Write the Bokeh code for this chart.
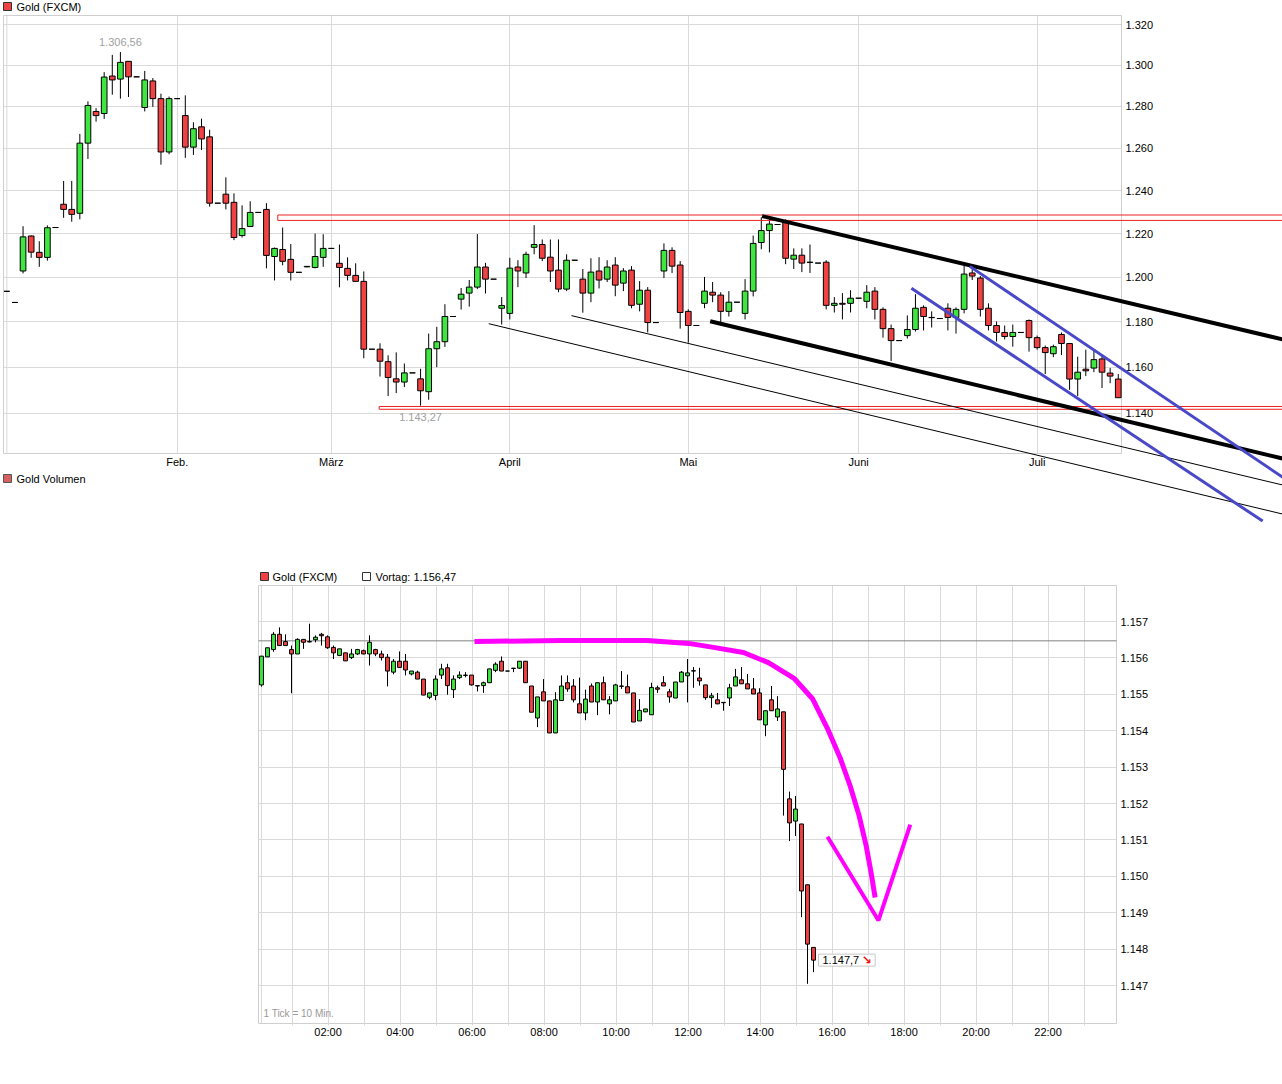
import math
from bokeh.plotting import figure
from bokeh.models import Range1d, FixedTicker, Span, Label, BoxAnnotation, Arrow, ColumnDataSource
from bokeh.layouts import column
from bokeh.embed import file_html
from bokeh.resources import INLINE

FONT = "Liberation Sans"
NARROW = "Liberation Sans Narrow, Liberation Sans"
RED = "#f04242"
GREEN = "#3fe63f"
GRID = "#dadada"
BORDER = "#cfcfcf"

# ---------------- daily candles (Gold FXCM) ----------------
month_ticks = [21, 40, 62, 84, 105, 127]
month_labels = ["Feb.", "März", "April", "Mai", "Juni", "Juli"]
top_ticks = [1140, 1160, 1180, 1200, 1220, 1240, 1260, 1280, 1300, 1320]
top_tick_labels = ["1.140", "1.160", "1.180", "1.200", "1.220", "1.240", "1.260", "1.280", "1.300", "1.320"]

d_open = [1193.7, 1188.7, 1202.9, 1218.9, 1211.4, 1209.1, 1222.8, 1233.6, 1231.2, 1229.4,
          1262.4, 1277.6, 1276.6, 1294.8, 1293.3, 1302.0, 1294.4, 1279.5, 1292.4, 1283.8,
          1258.2, 1283.8, 1275.6, 1260.5, 1270.2, 1265.4, 1234.1, 1238.3, 1234.5, 1219.1,
          1223.3, 1229.8, 1231.2, 1209.5, 1212.7, 1208.2, 1202.3, 1204.8, 1204.5, 1209.1,
          1213.2, 1206.4, 1204.1, 1200.9, 1198.2, 1167.9, 1167.9, 1162.4, 1154.9, 1153.5,
          1157.5, 1154.9, 1149.3, 1168.1, 1171.2, 1182.4, 1190.2, 1192.9, 1195.6, 1204.7,
          1199.2, 1186.1, 1183.8, 1204.7, 1202.0, 1213.7, 1215.0, 1209.2, 1203.3, 1194.7,
          1207.8, 1199.2, 1192.9, 1202.9, 1199.2, 1205.6, 1197.4, 1203.3, 1187.9, 1194.2,
          1179.7, 1202.9, 1212.3, 1205.6, 1184.7, 1178.4, 1188.3, 1193.3, 1192.0, 1184.7,
          1188.8, 1183.8, 1193.8, 1215.9, 1221.4, 1224.2, 1225.2, 1208.3, 1210.1, 1206.9,
          1206.5, 1206.9, 1187.4, 1188.3, 1188.3, 1190.6, 1189.2, 1193.8, 1185.6, 1177.0,
          1171.7, 1173.9, 1176.6, 1186.5, 1182.0, 1181.5, 1186.1, 1182.0, 1185.6, 1202.0,
          1199.7, 1186.1, 1178.4, 1175.3, 1173.5, 1175.3, 1180.6, 1173.0, 1168.6, 1165.9,
          1174.4, 1170.4, 1154.8, 1159.1, 1159.6, 1163.6, 1157.4, 1154.8]
d_high = [1193.7, 1188.7, 1223.4, 1219.2, 1216.5, 1223.8, 1222.8, 1244.5, 1244.5, 1266.8,
          1282.5, 1279.2, 1296.7, 1305.2, 1306.56, 1302.0, 1294.4, 1297.3, 1293.8, 1286.2,
          1284.8, 1283.8, 1285.4, 1272.4, 1274.1, 1268.8, 1234.1, 1246.2, 1238.7, 1233.1,
          1235.0, 1229.8, 1234.1, 1213.6, 1222.8, 1215.2, 1202.3, 1205.2, 1220.0, 1219.7,
          1213.2, 1215.0, 1209.1, 1206.4, 1202.7, 1167.9, 1170.5, 1165.2, 1166.5, 1161.6,
          1157.5, 1159.3, 1174.8, 1177.8, 1187.9, 1182.4, 1195.2, 1198.8, 1219.8, 1206.6,
          1199.2, 1191.1, 1208.9, 1207.8, 1211.7, 1223.9, 1217.3, 1217.3, 1217.3, 1210.5,
          1207.8, 1203.8, 1208.7, 1209.2, 1207.8, 1209.2, 1204.2, 1205.1, 1198.3, 1195.6,
          1179.7, 1215.5, 1213.7, 1207.4, 1185.6, 1178.4, 1200.2, 1197.9, 1193.3, 1193.8,
          1188.8, 1199.2, 1219.1, 1227.5, 1227.0, 1224.2, 1226.6, 1213.2, 1213.2, 1215.0,
          1206.5, 1207.8, 1191.1, 1192.9, 1194.2, 1190.6, 1196.5, 1195.6, 1186.5, 1178.8,
          1171.7, 1182.9, 1192.4, 1187.4, 1184.7, 1181.5, 1188.3, 1186.5, 1205.6, 1205.6,
          1200.6, 1188.3, 1180.2, 1178.4, 1178.8, 1175.3, 1181.1, 1173.9, 1169.5, 1169.9,
          1175.3, 1170.4, 1164.6, 1167.7, 1167.7, 1165.5, 1159.6, 1157.0]
d_low = [1193.7, 1188.7, 1201.8, 1208.9, 1204.8, 1207.6, 1222.8, 1227.3, 1225.5, 1226.6,
         1254.9, 1272.7, 1274.0, 1285.7, 1283.8, 1284.6, 1294.4, 1277.6, 1279.8, 1252.2,
         1257.1, 1283.8, 1255.4, 1256.8, 1259.1, 1232.5, 1234.1, 1231.2, 1217.0, 1218.2,
         1223.3, 1229.8, 1204.1, 1198.6, 1205.5, 1198.6, 1202.3, 1204.5, 1204.1, 1204.8,
         1213.2, 1195.5, 1198.6, 1198.2, 1163.9, 1167.9, 1155.9, 1147.4, 1148.7, 1151.3,
         1157.5, 1143.27, 1145.8, 1160.0, 1168.9, 1182.4, 1185.5, 1186.8, 1194.7, 1192.7,
         1199.2, 1178.8, 1181.1, 1195.6, 1199.7, 1210.5, 1207.4, 1197.9, 1193.3, 1193.8,
         1207.8, 1184.1, 1188.8, 1195.0, 1197.9, 1191.5, 1193.8, 1186.1, 1184.7, 1175.3,
         1179.7, 1199.7, 1202.0, 1177.0, 1170.8, 1178.4, 1186.1, 1188.8, 1179.7, 1182.4,
         1188.8, 1181.1, 1191.4, 1212.8, 1211.4, 1224.2, 1206.0, 1203.8, 1202.4, 1202.0,
         1206.5, 1185.6, 1184.2, 1181.1, 1184.2, 1190.6, 1186.1, 1181.1, 1173.0, 1162.7,
         1171.7, 1172.6, 1175.7, 1176.2, 1177.5, 1181.5, 1176.2, 1174.8, 1183.8, 1198.8,
         1182.4, 1176.2, 1171.3, 1172.2, 1169.0, 1175.3, 1166.8, 1167.7, 1157.0, 1164.4,
         1165.3, 1150.1, 1147.4, 1156.1, 1157.8, 1150.9, 1153.0, 1146.7]
d_close = [1193.7, 1188.7, 1218.5, 1211.5, 1209.1, 1222.7, 1222.8, 1231.2, 1228.9, 1262.4,
           1280.5, 1275.6, 1294.3, 1292.9, 1301.5, 1294.4, 1294.4, 1292.9, 1283.8, 1258.2,
           1283.8, 1283.8, 1260.5, 1269.3, 1264.4, 1234.1, 1234.1, 1234.1, 1218.2, 1222.3,
           1229.8, 1229.8, 1210.0, 1213.2, 1207.3, 1202.3, 1202.3, 1205.0, 1209.5, 1213.2,
           1213.2, 1204.5, 1200.9, 1198.2, 1167.9, 1167.9, 1162.6, 1155.5, 1153.5, 1157.5,
           1157.5, 1149.7, 1168.1, 1171.2, 1182.4, 1182.4, 1192.4, 1195.6, 1204.7, 1199.2,
           1199.2, 1187.3, 1204.2, 1202.9, 1210.5, 1215.0, 1208.7, 1202.9, 1194.7, 1207.8,
           1207.8, 1192.9, 1202.4, 1198.8, 1204.7, 1196.5, 1202.9, 1187.4, 1194.2, 1179.7,
           1179.7, 1212.3, 1205.1, 1184.2, 1178.4, 1178.4, 1193.8, 1192.0, 1184.7, 1188.8,
           1188.8, 1193.8, 1215.5, 1221.4, 1224.4, 1224.2, 1208.7, 1210.1, 1206.5, 1206.8,
           1206.5, 1187.4, 1188.3, 1187.9, 1190.6, 1190.6, 1193.3, 1185.6, 1177.0, 1171.7,
           1171.7, 1176.6, 1186.1, 1182.4, 1181.9, 1181.5, 1182.0, 1185.6, 1201.5, 1200.6,
           1185.6, 1178.4, 1175.3, 1173.5, 1175.3, 1175.3, 1173.0, 1168.6, 1166.4, 1169.0,
           1170.4, 1154.8, 1157.8, 1158.4, 1163.3, 1157.8, 1156.1, 1146.7]

# support / resistance bands (left index, lower price, upper price)
band_left = [33.4, 45.9]
band_low = [1226.1, 1141.7]
band_high = [1228.6, 1142.9]

# trend lines (index / price)
trend_x0 = [59.4, 69.6, 93.1, 86.7, 118.7, 111.5]
trend_y0 = [1179.2, 1182.8, 1228.1, 1180.3, 1205.0, 1195.1]
trend_x1 = [160.0, 160.0, 160.0, 160.0, 160.0, 154.8]
trend_y1 = [1095.2, 1107.3, 1169.9, 1118.4, 1106.5, 1094.5]
trend_color = ["#000000", "#000000", "#000000", "#000000", "#4848c8", "#4848c8"]
trend_width = [1, 1, 4, 4, 3, 3]

# ---------------- intraday 10-min candles ----------------
hour_ticks = [60, 120, 180, 240, 300, 360, 420, 480, 540, 600, 660, 720, 780, 840, 900,
              960, 1020, 1080, 1140, 1200, 1260, 1320, 1380]
hour_labels = ["", "02:00", "", "04:00", "", "06:00", "", "08:00", "", "10:00", "", "12:00",
               "", "14:00", "", "16:00", "", "18:00", "", "20:00", "", "22:00", ""]
bot_ticks = [1147, 1148, 1149, 1150, 1151, 1152, 1153, 1154, 1155, 1156, 1157]
bot_tick_labels = ["1.147", "1.148", "1.149", "1.150", "1.151", "1.152", "1.153", "1.154",
                   "1.155", "1.156", "1.157"]
vortag = 1156.47

i_open = [1155.26, 1156.03, 1156.23, 1156.65, 1156.45, 1156.23, 1156.11, 1156.51, 1156.45, 1156.50,
          1156.65, 1156.58, 1156.29, 1156.07, 1156.14, 1156.01, 1156.11, 1156.20, 1156.11, 1156.23,
          1156.11, 1156.02, 1155.61, 1155.91, 1155.91, 1155.56, 1155.61, 1155.42, 1154.92, 1154.97,
          1155.53, 1155.73, 1155.13, 1155.46, 1155.53, 1155.53, 1155.24, 1155.24, 1155.32, 1155.66,
          1155.91, 1155.64, 1155.72, 1155.72, 1155.91, 1155.23, 1154.35, 1155.07, 1154.82, 1153.94,
          1154.83, 1155.32, 1155.23, 1154.74, 1154.49, 1155.23, 1154.79, 1155.32, 1154.74, 1154.82,
          1155.23, 1155.21, 1155.04, 1154.27, 1154.52, 1154.44, 1155.18, 1155.32, 1155.07, 1154.90,
          1155.34, 1155.51, 1155.65, 1155.45, 1155.26, 1154.91, 1154.85, 1154.78, 1154.90, 1155.23,
          1155.40, 1155.29, 1155.15, 1155.04, 1154.16, 1154.85, 1154.38, 1154.52, 1152.13, 1151.52,
          1151.44, 1149.77, 1148.05]
i_high = [1156.05, 1156.28, 1156.71, 1156.84, 1156.65, 1156.34, 1156.54, 1156.51, 1156.94, 1156.62,
          1156.69, 1156.62, 1156.34, 1156.25, 1156.14, 1156.25, 1156.25, 1156.23, 1156.62, 1156.25,
          1156.20, 1156.11, 1155.97, 1156.18, 1156.11, 1155.64, 1155.65, 1155.42, 1155.04, 1155.52,
          1155.84, 1155.84, 1155.52, 1155.63, 1155.61, 1155.53, 1155.24, 1155.35, 1155.70, 1155.88,
          1156.04, 1155.64, 1155.72, 1155.91, 1155.91, 1155.23, 1154.93, 1155.42, 1154.82, 1155.06,
          1155.52, 1155.52, 1155.42, 1155.46, 1155.13, 1155.30, 1155.32, 1155.49, 1154.95, 1155.29,
          1155.64, 1155.54, 1155.04, 1154.87, 1154.60, 1155.32, 1155.24, 1155.50, 1155.15, 1155.34,
          1155.64, 1155.97, 1155.75, 1155.73, 1155.26, 1155.04, 1155.04, 1154.78, 1155.29, 1155.70,
          1155.75, 1155.56, 1155.45, 1155.17, 1154.55, 1155.23, 1154.95, 1154.52, 1152.33, 1152.21,
          1151.44, 1149.77, 1148.05]
i_low = [1155.21, 1156.03, 1156.17, 1156.34, 1156.34, 1155.03, 1156.11, 1156.25, 1156.43, 1156.43,
         1156.34, 1156.25, 1155.97, 1156.05, 1155.92, 1155.97, 1156.08, 1156.10, 1155.79, 1156.05,
         1155.93, 1155.22, 1155.55, 1155.74, 1155.52, 1155.52, 1155.42, 1154.98, 1154.87, 1154.84,
         1155.42, 1154.99, 1154.90, 1155.42, 1155.47, 1155.24, 1155.08, 1155.04, 1155.32, 1155.61,
         1155.64, 1155.64, 1155.61, 1155.70, 1155.32, 1154.51, 1154.10, 1154.82, 1153.94, 1153.94,
         1154.83, 1155.07, 1154.78, 1154.49, 1154.29, 1154.79, 1154.43, 1154.85, 1154.45, 1154.82,
         1155.15, 1155.04, 1154.24, 1154.27, 1154.51, 1154.44, 1155.04, 1155.23, 1154.77, 1154.90,
         1155.34, 1154.78, 1155.18, 1155.24, 1154.85, 1154.63, 1154.73, 1154.55, 1154.68, 1155.23,
         1155.29, 1155.15, 1155.01, 1154.30, 1153.85, 1154.55, 1154.27, 1151.67, 1150.97, 1151.11,
         1148.88, 1147.05, 1147.37]
i_close = [1156.05, 1156.28, 1156.65, 1156.34, 1156.34, 1156.11, 1156.51, 1156.43, 1156.44, 1156.57,
           1156.61, 1156.28, 1156.14, 1156.25, 1155.92, 1156.11, 1156.23, 1156.11, 1156.43, 1156.11,
           1156.01, 1155.64, 1155.91, 1155.74, 1155.67, 1155.64, 1155.42, 1154.98, 1155.04, 1155.42,
           1155.70, 1155.24, 1155.42, 1155.53, 1155.52, 1155.26, 1155.23, 1155.32, 1155.70, 1155.83,
           1155.64, 1155.64, 1155.71, 1155.91, 1155.32, 1154.51, 1154.93, 1154.82, 1153.94, 1154.85,
           1155.23, 1155.15, 1154.85, 1154.49, 1154.87, 1154.79, 1155.32, 1154.85, 1154.85, 1155.26,
           1155.22, 1155.04, 1154.24, 1154.56, 1154.60, 1155.19, 1155.14, 1155.23, 1154.93, 1155.34,
           1155.61, 1155.59, 1155.64, 1155.37, 1154.91, 1154.96, 1154.74, 1154.77, 1155.18, 1155.48,
           1155.29, 1155.15, 1155.01, 1154.30, 1154.55, 1154.55, 1154.60, 1152.94, 1151.47, 1151.85,
           1149.60, 1148.14, 1147.70]

# hand-drawn magenta arrow (minutes of day / price)
curve_t = [364.0, 507.3, 652.3, 720.7, 762.3, 812.3, 854.0, 897.3, 927.3, 952.3, 973.3, 990.0,
           1005.0, 1016.7, 1025.0, 1031.7]
curve_p = [1156.45, 1156.48, 1156.48, 1156.40, 1156.29, 1156.15, 1155.87, 1155.43, 1154.88,
           1154.06, 1153.26, 1152.49, 1151.67, 1150.85, 1150.10, 1149.42]
vee_t = [952.3, 1037.3, 1090.3]
vee_p = [1151.09, 1148.79, 1151.42]

# ---------------- layout geometry (pixels) ----------------
W = 1282
TOP_H = 560
BOT_H = 510
CH_X0, CH_X1 = -0.41, 137.4
CH_Y0, CH_Y1 = 1122.79, 1324.74
T_LEFT, T_RIGHT, T_TOP, T_BOTTOM = 3, 1121, 15, 453
BX0, BX1 = 4.0, 1434.0
BY0, BY1 = 1145.96, 1157.99
B_LEFT, B_RIGHT, B_TOP, B_BOTTOM = 258, 1116, 25, 463


def candles(p, x, o, h, l, c, width):
    n = min(len(x), len(o), len(h), len(l), len(c))
    src = ColumnDataSource(dict(
        x=x[:n], h=h[:n], l=l[:n],
        top=[max(a, b) for a, b in zip(o[:n], c[:n])],
        bottom=[min(a, b) for a, b in zip(o[:n], c[:n])],
        color=[GREEN if b > a else RED for a, b in zip(o[:n], c[:n])]))
    p.segment("x", "h", "x", "l", source=src, line_color="black", line_width=1)
    p.vbar(x="x", width=width, top="top", bottom="bottom", fill_color="color",
           line_color="black", line_width=1, source=src)


def style_axes(p):
    for ax in list(p.xaxis) + list(p.yaxis):
        ax.axis_line_color = None
        ax.minor_tick_line_color = None
        ax.major_label_text_font = FONT
        ax.major_label_text_font_size = "11px"
        ax.major_label_text_color = "#000000"
    p.xgrid.grid_line_color = GRID
    p.ygrid.grid_line_color = GRID
    p.outline_line_color = None
    p.background_fill_color = "white"
    p.border_fill_color = "white"


def mask_outside(p, x0, x1, y0, y1):
    for kw in (dict(left=x1), dict(right=x0), dict(bottom=y1), dict(top=y0)):
        p.add_layout(BoxAnnotation(level="underlay", fill_color="white", fill_alpha=1.0,
                                   line_color=None, **kw))
    p.add_layout(BoxAnnotation(level="underlay", left=x0, right=x1, bottom=y0, top=y1,
                               fill_color=None, line_color=BORDER, line_alpha=1.0, line_width=1))


def legend_box(p, left, bottom, color, line="#333333"):
    p.add_layout(BoxAnnotation(left=left, right=left + 8, bottom=bottom, top=bottom + 8,
                               left_units="screen", right_units="screen",
                               bottom_units="screen", top_units="screen",
                               fill_color=color, fill_alpha=1.0, line_color=line,
                               line_alpha=1.0, line_width=1))


def legend_text(p, x, y, text, font=FONT, size="11px", color="#000000"):
    p.add_layout(Label(x=x, y=y, x_units="screen", y_units="screen", text=text,
                       text_font=font, text_font_size=size, text_color=color,
                       text_baseline="middle", text_align="left"))


# ---------------- top figure ----------------
n_days = len(d_open)
tx = (T_RIGHT - T_LEFT) / (CH_X1 - CH_X0)
tk = math.log(CH_Y1 / CH_Y0) / (T_BOTTOM - T_TOP)
top = figure(frame_width=W, frame_height=TOP_H, min_border=0,
             x_range=Range1d(CH_X0 - T_LEFT / tx, CH_X0 + (W - T_LEFT) / tx),
             y_range=Range1d(CH_Y0 * math.exp(-(TOP_H - T_BOTTOM) * tk), CH_Y1 * math.exp(T_TOP * tk)),
             y_axis_type="log", y_axis_location="right",
             output_backend="svg", toolbar_location=None)
style_axes(top)
top.yaxis.fixed_location = CH_X1
top.xaxis.fixed_location = CH_Y0
top.yaxis.ticker = FixedTicker(ticks=top_ticks)
top.yaxis.major_label_overrides = dict(zip(top_ticks, top_tick_labels))
top.xaxis.ticker = FixedTicker(ticks=month_ticks)
top.xaxis.major_label_overrides = dict(zip(month_ticks, month_labels))
top.xaxis.major_label_text_font = NARROW
top.yaxis.major_tick_out = 0
top.xaxis.major_tick_out = 0
top.yaxis.major_tick_in = 0
top.xaxis.major_tick_in = 0
top.yaxis.major_label_standoff = 4
top.xaxis.major_label_standoff = 2
top.yaxis.major_tick_line_color = None
top.xaxis.major_tick_line_color = None
top.add_layout(Span(location=0, dimension="height", line_color=GRID, line_width=1, level="underlay"))
mask_outside(top, CH_X0, CH_X1, CH_Y0, CH_Y1)

candles(top, list(range(n_days)), d_open, d_high, d_low, d_close, 0.7)

for bl, lo, hi in zip(band_left, band_low, band_high):
    top.add_layout(BoxAnnotation(left=bl, bottom=lo, top=hi, fill_color=None,
                                 line_color="#ee2020", line_alpha=1.0, line_width=1))

for x0, y0, x1, y1, col, lw in zip(trend_x0, trend_y0, trend_x1, trend_y1, trend_color, trend_width):
    top.add_layout(Arrow(end=None, x_start=x0, y_start=y0, x_end=x1, y_end=y1,
                         line_color=col, line_width=lw))

hi_idx = d_high.index(max(d_high))
lo_idx = d_low.index(min(d_low))
top.add_layout(Label(x=hi_idx, y=d_high[hi_idx], text="1.306,56", text_align="center",
                     text_baseline="bottom", y_offset=6, text_font=FONT, text_font_size="11px",
                     text_color="#a0a0a0"))
top.add_layout(Label(x=lo_idx, y=d_low[lo_idx], text="1.143,27", text_align="center",
                     text_baseline="top", y_offset=-7, text_font=FONT, text_font_size="11px",
                     text_color="#a0a0a0"))

legend_box(top, 3, TOP_H - 10, RED)
legend_text(top, 16, TOP_H - 6, "Gold (FXCM)")
legend_box(top, 3, TOP_H - 482, "#d96060", line="#555555")
legend_text(top, 16, TOP_H - 478, "Gold Volumen", font=NARROW)

# ---------------- bottom figure ----------------
n_bars = len(i_open)
i_time = [9 + 10 * k for k in range(n_bars)]
bx = (B_RIGHT - B_LEFT) / (BX1 - BX0)
by = (B_BOTTOM - B_TOP) / (BY1 - BY0)
bot = figure(frame_width=W, frame_height=BOT_H, min_border=0,
             x_range=Range1d(BX0 - B_LEFT / bx, BX0 + (W - B_LEFT) / bx),
             y_range=Range1d(BY0 - (BOT_H - B_BOTTOM) / by, BY1 + B_TOP / by),
             y_axis_location="right", output_backend="svg", toolbar_location=None)
style_axes(bot)
bot.yaxis.fixed_location = BX1
bot.xaxis.fixed_location = BY0
bot.yaxis.ticker = FixedTicker(ticks=bot_ticks)
bot.yaxis.major_label_overrides = dict(zip(bot_ticks, bot_tick_labels))
bot.yaxis.major_tick_out = 0
bot.yaxis.major_tick_in = 0
bot.yaxis.major_tick_line_color = None
bot.yaxis.major_label_standoff = 4
bot.xaxis.ticker = FixedTicker(ticks=hour_ticks)
bot.xaxis.major_label_overrides = dict(zip(hour_ticks, hour_labels))
bot.xaxis.major_label_text_font = NARROW
bot.xaxis.major_tick_out = 2
bot.xaxis.major_tick_in = 0
bot.xaxis.major_tick_line_color = GRID
bot.xaxis.major_label_standoff = 0
bot.add_layout(Span(location=i_time[0], dimension="height", line_color=GRID, line_width=1, level="underlay"))
mask_outside(bot, BX0, BX1, BY0, BY1)

# previous-day close reference line (drawn beneath the candles)
bot.segment(x0=[BX0], y0=[vortag], x1=[BX1], y1=[vortag], line_color="#808080", line_width=1)

candles(bot, i_time, i_open, i_high, i_low, i_close, 6.5)

bot.line(curve_t, curve_p, line_color="#ff00ff", line_width=5)
bot.line(vee_t, vee_p, line_color="#ff00ff", line_width=4)

bot.add_layout(Label(x=i_time[-1], y=i_close[-1], x_offset=5, text="1.147,7", text_align="left",
                     text_baseline="middle", text_font=FONT, text_font_size="11px",
                     text_color="#000000", background_fill_color="white",
                     border_line_color="#c8c8c8", border_line_width=1,
                     padding=dict(left=4, right=16, top=2, bottom=2)))
bot.add_layout(Label(x=i_time[-1], y=i_close[-1], x_offset=48, text="↘", text_align="left",
                     text_baseline="middle", text_font="DejaVu Sans", text_font_size="12px",
                     text_font_style="bold", text_color="#ee1111"))

legend_box(bot, 260, BOT_H - 20, RED)
legend_text(bot, 272, BOT_H - 16, "Gold (FXCM)")
legend_box(bot, 362, BOT_H - 20, "white")
legend_text(bot, 375, BOT_H - 16, "Vortag: 1.156,47")
legend_text(bot, 263, BOT_H - 453, "1 Tick = 10 Min.", font=NARROW, size="10px", color="#999999")

layout = column(top, bot)
open("out.html", "w").write(file_html(layout, INLINE))
